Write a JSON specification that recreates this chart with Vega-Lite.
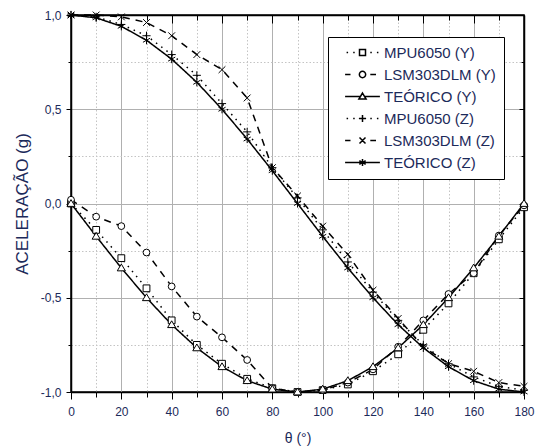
{
  "$schema": "https://vega.github.io/schema/vega-lite/v6.json",
  "width": 453,
  "height": 377,
  "autosize": "none",
  "padding": {"left": 71, "top": 15, "right": 14, "bottom": 55},
  "config": {
    "font": "Liberation Sans",
    "view": {"stroke": "black", "strokeWidth": 1.5},
    "axis": {"domainColor": "black", "domainWidth": 1.5, "tickColor": "black", "tickWidth": 1, "labelColor": "#1c2a5a", "titleColor": "#1c2a5a", "labelFont": "Liberation Sans", "titleFont": "Liberation Sans", "titleFontWeight": "normal", "labelFontSize": 12, "labelFlush": false}
  },
  "datasets": {
    "d": [
      {"t":0,"s":"MPU6050 (Y)","v":0.0},{"t":10,"s":"MPU6050 (Y)","v":-0.14},{"t":20,"s":"MPU6050 (Y)","v":-0.29},{"t":30,"s":"MPU6050 (Y)","v":-0.45},{"t":40,"s":"MPU6050 (Y)","v":-0.62},{"t":50,"s":"MPU6050 (Y)","v":-0.75},{"t":60,"s":"MPU6050 (Y)","v":-0.85},{"t":70,"s":"MPU6050 (Y)","v":-0.93},{"t":80,"s":"MPU6050 (Y)","v":-0.98},{"t":90,"s":"MPU6050 (Y)","v":-1.0},{"t":100,"s":"MPU6050 (Y)","v":-0.99},{"t":110,"s":"MPU6050 (Y)","v":-0.96},{"t":120,"s":"MPU6050 (Y)","v":-0.89},{"t":130,"s":"MPU6050 (Y)","v":-0.80},{"t":140,"s":"MPU6050 (Y)","v":-0.67},{"t":150,"s":"MPU6050 (Y)","v":-0.53},{"t":160,"s":"MPU6050 (Y)","v":-0.37},{"t":170,"s":"MPU6050 (Y)","v":-0.19},{"t":180,"s":"MPU6050 (Y)","v":-0.02},
      {"t":0,"s":"LSM303DLM (Y)","v":0.02},{"t":10,"s":"LSM303DLM (Y)","v":-0.07},{"t":20,"s":"LSM303DLM (Y)","v":-0.12},{"t":30,"s":"LSM303DLM (Y)","v":-0.26},{"t":40,"s":"LSM303DLM (Y)","v":-0.44},{"t":50,"s":"LSM303DLM (Y)","v":-0.60},{"t":60,"s":"LSM303DLM (Y)","v":-0.71},{"t":70,"s":"LSM303DLM (Y)","v":-0.83},{"t":80,"s":"LSM303DLM (Y)","v":-0.98},{"t":90,"s":"LSM303DLM (Y)","v":-1.0},{"t":100,"s":"LSM303DLM (Y)","v":-0.99},{"t":110,"s":"LSM303DLM (Y)","v":-0.95},{"t":120,"s":"LSM303DLM (Y)","v":-0.88},{"t":130,"s":"LSM303DLM (Y)","v":-0.76},{"t":140,"s":"LSM303DLM (Y)","v":-0.62},{"t":150,"s":"LSM303DLM (Y)","v":-0.48},{"t":160,"s":"LSM303DLM (Y)","v":-0.37},{"t":170,"s":"LSM303DLM (Y)","v":-0.17},{"t":180,"s":"LSM303DLM (Y)","v":-0.01},
      {"t":0,"s":"TEÓRICO (Y)","v":0.0},{"t":10,"s":"TEÓRICO (Y)","v":-0.174},{"t":20,"s":"TEÓRICO (Y)","v":-0.342},{"t":30,"s":"TEÓRICO (Y)","v":-0.5},{"t":40,"s":"TEÓRICO (Y)","v":-0.643},{"t":50,"s":"TEÓRICO (Y)","v":-0.766},{"t":60,"s":"TEÓRICO (Y)","v":-0.866},{"t":70,"s":"TEÓRICO (Y)","v":-0.94},{"t":80,"s":"TEÓRICO (Y)","v":-0.985},{"t":90,"s":"TEÓRICO (Y)","v":-1.0},{"t":100,"s":"TEÓRICO (Y)","v":-0.985},{"t":110,"s":"TEÓRICO (Y)","v":-0.94},{"t":120,"s":"TEÓRICO (Y)","v":-0.866},{"t":130,"s":"TEÓRICO (Y)","v":-0.766},{"t":140,"s":"TEÓRICO (Y)","v":-0.643},{"t":150,"s":"TEÓRICO (Y)","v":-0.5},{"t":160,"s":"TEÓRICO (Y)","v":-0.342},{"t":170,"s":"TEÓRICO (Y)","v":-0.174},{"t":180,"s":"TEÓRICO (Y)","v":0.0},
      {"t":0,"s":"MPU6050 (Z)","v":1.0},{"t":10,"s":"MPU6050 (Z)","v":0.99},{"t":20,"s":"MPU6050 (Z)","v":0.95},{"t":30,"s":"MPU6050 (Z)","v":0.89},{"t":40,"s":"MPU6050 (Z)","v":0.79},{"t":50,"s":"MPU6050 (Z)","v":0.68},{"t":60,"s":"MPU6050 (Z)","v":0.53},{"t":70,"s":"MPU6050 (Z)","v":0.38},{"t":80,"s":"MPU6050 (Z)","v":0.19},{"t":90,"s":"MPU6050 (Z)","v":0.03},{"t":100,"s":"MPU6050 (Z)","v":-0.14},{"t":110,"s":"MPU6050 (Z)","v":-0.31},{"t":120,"s":"MPU6050 (Z)","v":-0.47},{"t":130,"s":"MPU6050 (Z)","v":-0.62},{"t":140,"s":"MPU6050 (Z)","v":-0.75},{"t":150,"s":"MPU6050 (Z)","v":-0.85},{"t":160,"s":"MPU6050 (Z)","v":-0.92},{"t":170,"s":"MPU6050 (Z)","v":-0.97},{"t":180,"s":"MPU6050 (Z)","v":-0.99},
      {"t":0,"s":"LSM303DLM (Z)","v":1.0},{"t":10,"s":"LSM303DLM (Z)","v":1.0},{"t":20,"s":"LSM303DLM (Z)","v":0.99},{"t":30,"s":"LSM303DLM (Z)","v":0.96},{"t":40,"s":"LSM303DLM (Z)","v":0.89},{"t":50,"s":"LSM303DLM (Z)","v":0.79},{"t":60,"s":"LSM303DLM (Z)","v":0.71},{"t":70,"s":"LSM303DLM (Z)","v":0.56},{"t":80,"s":"LSM303DLM (Z)","v":0.19},{"t":90,"s":"LSM303DLM (Z)","v":0.04},{"t":100,"s":"LSM303DLM (Z)","v":-0.12},{"t":110,"s":"LSM303DLM (Z)","v":-0.27},{"t":120,"s":"LSM303DLM (Z)","v":-0.46},{"t":130,"s":"LSM303DLM (Z)","v":-0.61},{"t":140,"s":"LSM303DLM (Z)","v":-0.76},{"t":150,"s":"LSM303DLM (Z)","v":-0.85},{"t":160,"s":"LSM303DLM (Z)","v":-0.89},{"t":170,"s":"LSM303DLM (Z)","v":-0.95},{"t":180,"s":"LSM303DLM (Z)","v":-0.97},
      {"t":0,"s":"TEÓRICO (Z)","v":1.0},{"t":10,"s":"TEÓRICO (Z)","v":0.985},{"t":20,"s":"TEÓRICO (Z)","v":0.94},{"t":30,"s":"TEÓRICO (Z)","v":0.866},{"t":40,"s":"TEÓRICO (Z)","v":0.766},{"t":50,"s":"TEÓRICO (Z)","v":0.643},{"t":60,"s":"TEÓRICO (Z)","v":0.5},{"t":70,"s":"TEÓRICO (Z)","v":0.342},{"t":80,"s":"TEÓRICO (Z)","v":0.174},{"t":90,"s":"TEÓRICO (Z)","v":0.0},{"t":100,"s":"TEÓRICO (Z)","v":-0.174},{"t":110,"s":"TEÓRICO (Z)","v":-0.342},{"t":120,"s":"TEÓRICO (Z)","v":-0.5},{"t":130,"s":"TEÓRICO (Z)","v":-0.643},{"t":140,"s":"TEÓRICO (Z)","v":-0.766},{"t":150,"s":"TEÓRICO (Z)","v":-0.866},{"t":160,"s":"TEÓRICO (Z)","v":-0.94},{"t":170,"s":"TEÓRICO (Z)","v":-0.985},{"t":180,"s":"TEÓRICO (Z)","v":-1.0}
    ]
  },
  "data": {"name": "d"},
  "layer": [
    {
      "mark": {"type": "line", "stroke": "black"},
      "encoding": {
        "x": {"field": "t", "type": "quantitative", "scale": {"domain": [0, 180], "nice": false},
          "axis": {"orient": "bottom", "title": "θ (°)", "titleFontSize": 14, "titlePadding": 14,
            "values": [0,10,20,30,40,50,60,70,80,90,100,110,120,130,140,150,160,170,180],
            "labelExpr": "datum.value % 20 === 0 ? datum.label : ''",
            "tickSize": {"condition": {"test": "datum.value % 20 === 0", "value": 7}, "value": 5},
            "labelPadding": 7,
            "grid": true,
            "gridColor": {"condition": {"test": "datum.value % 20 === 0", "value": "#b0b0b0"}, "value": "#c4c4c4"},
            "gridDash": {"condition": {"test": "datum.value % 20 === 0", "value": []}, "value": [1.5, 2]},
            "gridWidth": 1}},
        "y": {"field": "v", "type": "quantitative", "scale": {"domain": [-1, 1], "nice": false},
          "axis": {"orient": "left", "title": "ACELERAÇÃO (g)", "titleFontSize": 17, "titlePadding": 9,
            "values": [-1,-0.75,-0.5,-0.25,0,0.25,0.5,0.75,1],
            "labelExpr": "abs(datum.value * 4) % 2 === 0 ? replace(replace(format(datum.value, '.1f'), '.', ','), '−', '-') : ''",
            "tickSize": {"condition": {"test": "abs(datum.value * 4) % 2 === 0", "value": 5}, "value": 3},
            "labelPadding": 5,
            "grid": true,
            "gridColor": {"condition": {"test": "abs(datum.value * 4) % 2 === 0", "value": "#b0b0b0"}, "value": "#c4c4c4"},
            "gridDash": {"condition": {"test": "abs(datum.value * 4) % 2 === 0", "value": []}, "value": [1.5, 2]},
            "gridWidth": 1}},
        "strokeDash": {"field": "s", "type": "nominal",
          "scale": {"domain": ["LSM303DLM (Y)", "LSM303DLM (Z)", "MPU6050 (Y)", "MPU6050 (Z)", "TEÓRICO (Y)", "TEÓRICO (Z)"],
            "range": [[7, 6], [7, 6], [1.5, 5], [1.5, 5], [1, 0], [1, 0]]},
          "legend": null},
        "strokeWidth": {"field": "s", "type": "nominal",
          "scale": {"domain": ["MPU6050 (Y)", "LSM303DLM (Y)", "TEÓRICO (Y)", "MPU6050 (Z)", "LSM303DLM (Z)", "TEÓRICO (Z)"],
            "range": [1.5, 1.5, 1.5, 1.5, 1.5, 1.5]},
          "legend": {
            "title": null,
            "orient": "none", "legendX": 257, "legendY": 22,
            "padding": 8, "strokeColor": "black", "fillColor": "white",
            "labelFont": "Liberation Sans", "labelFontSize": 15, "labelColor": "#1c2a5a",
            "symbolSize": 36, "symbolStrokeColor": "black", "symbolFillColor": "white",
            "symbolOffset": 19, "labelOffset": 14, "rowPadding": 6,
            "encode": {
              "symbols": {"update": {
                "shape": {"signal": "datum.value === 'MPU6050 (Y)' ? 'M-5.3,0H-4.8M-3.1,0H-2.6M-1,-1H1V1H-1ZM2.6,0H3.1M4.8,0H5.3' : datum.value === 'LSM303DLM (Y)' ? 'M-5.8,0H-4M-1.05,0A1.05,1.05 0 1,0 1.05,0A1.05,1.05 0 1,0 -1.05,0M2.6,0H4.5' : datum.value === 'TEÓRICO (Y)' ? 'M-5.8,0H-0.6M0,-1.15L1.2,0.85L-1.2,0.85ZM0.6,0H5.8' : datum.value === 'MPU6050 (Z)' ? 'M-5.3,0H-4.8M-3.1,0H-2.6M-1.2,0H1.2M0,-1.2V1.2M2.6,0H3.1M4.8,0H5.3' : datum.value === 'LSM303DLM (Z)' ? 'M-5.8,0H-4M-1,-1L1,1M-1,1L1,-1M2.6,0H4.5' : 'M-5.8,0H5.8M0,-1.2V1.2M-1.05,-0.6L1.05,0.6M-1.05,0.6L1.05,-0.6'"},
                "size": {"value": 36},
                "fill": {"value": "white"},
                "stroke": {"value": "black"},
                "opacity": {"value": 1}
              }}
            }
          }}
      }
    },
    {
      "mark": {"type": "point", "fill": "white", "stroke": "black", "strokeWidth": 1, "size": 46, "opacity": 1},
      "encoding": {
        "x": {"field": "t", "type": "quantitative",
          "axis": {"orient": "top", "title": null, "labels": false, "grid": false, "domain": true,
            "values": [0,10,20,30,40,50,60,70,80,90,100,110,120,130,140,150,160,170,180],
            "tickSize": {"condition": {"test": "datum.value % 20 === 0", "value": -8}, "value": -5}}},
        "y": {"field": "v", "type": "quantitative",
          "axis": {"orient": "right", "title": null, "labels": false, "grid": false, "domain": true,
            "values": [-1,-0.75,-0.5,-0.25,0,0.25,0.5,0.75,1],
            "tickSize": {"condition": {"test": "abs(datum.value * 4) % 2 === 0", "value": -5}, "value": -3}}},
        "shape": {"field": "s", "type": "nominal",
          "scale": {"domain": ["MPU6050 (Z)", "LSM303DLM (Z)", "TEÓRICO (Z)", "MPU6050 (Y)", "LSM303DLM (Y)", "TEÓRICO (Y)"],
            "range": ["M-1.2,0H1.2M0,-1.2V1.2", "M-1,-1L1,1M-1,1L1,-1", "M0,-1.2V1.2M-1.05,-0.6L1.05,0.6M-1.05,0.6L1.05,-0.6", "M-1,-1H1V1H-1Z", "circle", "M0,-1.15L1.2,0.85L-1.2,0.85Z"]},
          "legend": null}
      }
    }
  ]
}
